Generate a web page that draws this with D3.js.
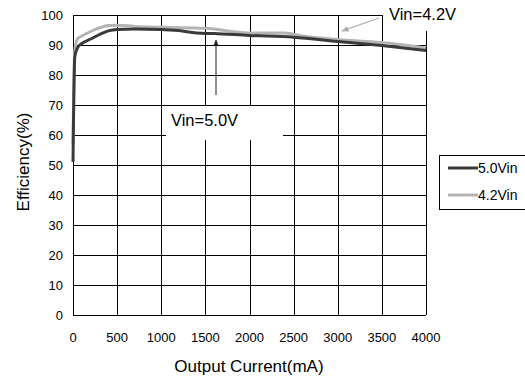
<!DOCTYPE html>
<html>
<head>
<meta charset="utf-8">
<script src="https://cdn.jsdelivr.net/npm/d3@7"></script>
<style>
  body { margin: 0; background: #fff; }
  text { font-family: Arial, "Liberation Sans", sans-serif; fill: #000; }
</style>
</head>
<body>
<svg class="chart" width="525" height="378"></svg>
<script>
// values
const xTicks = [0, 500, 1000, 1500, 2000, 2500, 3000, 3500, 4000];
const yTicks = [0, 10, 20, 30, 40, 50, 60, 70, 80, 90, 100];
const seriesNames = ['5.0Vin', '4.2Vin'];
const seriesColors = ['#3a3a3a', '#b4b4b4'];

const vin50 = [
  [0, 51], [20, 86], [50, 89], [100, 90.5], [200, 92], [300, 93.5], [400, 94.7],
  [500, 95.2], [700, 95.3], [1000, 95.2], [1200, 94.8], [1400, 94], [1600, 93.8],
  [2000, 93.2], [2500, 92.6], [3000, 91.2], [3500, 89.8], [4000, 88.2]
];
const vin42 = [
  [0, 57], [20, 88], [50, 92], [100, 93], [200, 94.5], [300, 95.7], [400, 96.5],
  [500, 96.6], [700, 96.2], [1000, 95.9], [1500, 95.6], [1800, 94.5], [2000, 94],
  [2400, 94], [2600, 93], [3000, 91.8], [3500, 90.8], [4000, 89]
];

const svg = d3.select('.chart');
const mLeft = 73, mRight = 426, mTop = 15, mBottom = 315;

const x = d3.scaleLinear().domain([0, 4000]).range([mLeft, mRight]);
const y = d3.scaleLinear().domain([0, 100]).range([mBottom, mTop]);

// grid
const grid = svg.append('g').attr('stroke', '#000').attr('stroke-width', 1).attr('shape-rendering', 'crispEdges');
grid.selectAll('.h').data(yTicks).enter().append('line')
  .attr('x1', mLeft).attr('x2', mRight)
  .attr('y1', d => Math.round(y(d)) + 0.5).attr('y2', d => Math.round(y(d)) + 0.5);
grid.selectAll('.v').data(xTicks).enter().append('line')
  .attr('y1', mTop).attr('y2', mBottom)
  .attr('x1', d => Math.round(x(d)) + 0.5).attr('x2', d => Math.round(x(d)) + 0.5);

// axes labels
svg.append('g').selectAll('text').data(yTicks).enter().append('text')
  .attr('x', 63).attr('y', d => y(d) + 5)
  .attr('text-anchor', 'end').attr('font-size', 13).text(d => d);
svg.append('g').selectAll('text').data(xTicks).enter().append('text')
  .attr('x', d => x(d)).attr('y', 342)
  .attr('text-anchor', 'middle').attr('font-size', 13).text(d => d);

svg.append('text').attr('x', 249).attr('y', 372).attr('text-anchor', 'middle')
  .attr('font-size', 17).text('Output Current(mA)');
svg.append('text').attr('transform', 'translate(29,162) rotate(-90)')
  .attr('text-anchor', 'middle').attr('font-size', 17).text('Efficiency(%)');

// curves
const line = d3.line().x(d => x(d[0])).y(d => y(d[1])).curve(d3.curveMonotoneX);
svg.append('path').datum(vin42).attr('d', line).attr('fill', 'none')
  .attr('stroke', seriesColors[1]).attr('stroke-width', 3);
svg.append('path').datum(vin50).attr('d', line).attr('fill', 'none')
  .attr('stroke', seriesColors[0]).attr('stroke-width', 3);

// annotation boxes
svg.append('rect').attr('x', 166).attr('y', 106).attr('width', 117).attr('height', 34).attr('fill', '#fff');
svg.append('text').attr('x', 171).attr('y', 126).attr('font-size', 16.5).text('Vin=5.0V');
svg.append('rect').attr('x', 383).attr('y', 0).attr('width', 80).attr('height', 31).attr('fill', '#fff');
svg.append('text').attr('x', 389).attr('y', 20).attr('font-size', 16.5).text('Vin=4.2V');

svg.append('defs').html(
  '<marker id="ah" viewBox="0 0 10 10" refX="9" refY="5" markerWidth="6" markerHeight="6" orient="auto"><path d="M0,1L10,5L0,9z" fill="#222"/></marker>' +
  '<marker id="ahg" viewBox="0 0 10 10" refX="9" refY="5" markerWidth="6" markerHeight="6" orient="auto"><path d="M0,1L10,5L0,9z" fill="#aaa"/></marker>');
svg.append('line').attr('x1', 216).attr('y1', 95).attr('x2', 216).attr('y2', 40)
  .attr('stroke', '#222').attr('stroke-width', 1).attr('marker-end', 'url(#ah)');
svg.append('line').attr('x1', 379).attr('y1', 18).attr('x2', 342).attr('y2', 31)
  .attr('stroke', '#aaa').attr('stroke-width', 1.2).attr('marker-end', 'url(#ahg)');

// legend
const lg = svg.append('g');
lg.append('rect').attr('x', 439.5).attr('y', 155.5).attr('width', 90).attr('height', 54)
  .attr('fill', '#fff').attr('stroke', '#000');
seriesNames.forEach((n, i) => {
  const ly = 168 + i * 27;
  lg.append('line').attr('x1', 448).attr('x2', 478).attr('y1', ly).attr('y2', ly)
    .attr('stroke', seriesColors[i]).attr('stroke-width', 3);
  lg.append('text').attr('x', 478).attr('y', ly + 5).attr('font-size', 14).text(n);
});
</script>
</body>
</html>
